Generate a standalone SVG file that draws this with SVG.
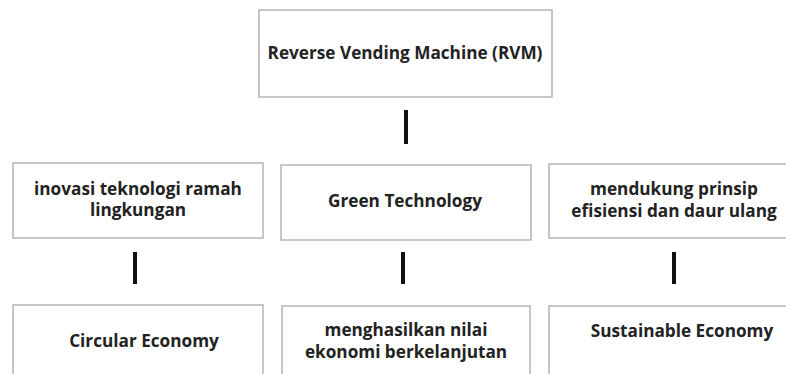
<svg xmlns="http://www.w3.org/2000/svg" width="786" height="374" viewBox="0 0 786 374">
<style>
.box{fill:#fff;stroke:#b4b4b4;stroke-width:1.5}
.t{font-family:"Open Sans","Noto Sans",sans-serif;font-weight:bold;font-size:17.2px;fill:#222;text-anchor:middle}
.c{stroke:#111;stroke-width:4;fill:none}
</style>
<rect width="786" height="374" fill="#fff"/>
<g id="connectors">
<line class="c" x1="406" y1="110" x2="406" y2="144"/>
<line class="c" x1="135" y1="252" x2="135" y2="284"/>
<line class="c" x1="403" y1="252" x2="403" y2="284"/>
<line class="c" x1="674" y1="252" x2="674" y2="284"/>
</g>
<g id="rvm">
<rect class="box" x="259" y="10" width="293" height="87"/>
<text class="t" x="405" y="59">Reverse Vending Machine (RVM)</text>
</g>
<g id="inovasi">
<rect class="box" x="13" y="163" width="250" height="75"/>
<text class="t" x="138" y="195">inovasi teknologi ramah</text>
<text class="t" x="138" y="216">lingkungan</text>
</g>
<g id="green">
<rect class="box" x="281" y="165" width="250" height="75"/>
<text class="t" x="405" y="207">Green Technology</text>
</g>
<g id="mendukung">
<rect class="box" x="549" y="164" width="250" height="74"/>
<text class="t" x="674" y="195">mendukung prinsip</text>
<text class="t" x="674" y="217">efisiensi dan daur ulang</text>
</g>
<g id="circular">
<rect class="box" x="13" y="305" width="250" height="80"/>
<text class="t" x="144" y="347">Circular Economy</text>
</g>
<g id="menghasilkan">
<rect class="box" x="282" y="306" width="248" height="80"/>
<text class="t" x="406" y="336">menghasilkan nilai</text>
<text class="t" x="406" y="358">ekonomi berkelanjutan</text>
</g>
<g id="sustainable">
<rect class="box" x="549" y="306" width="250" height="80"/>
<text class="t" x="682" y="337">Sustainable Economy</text>
</g>
</svg>
